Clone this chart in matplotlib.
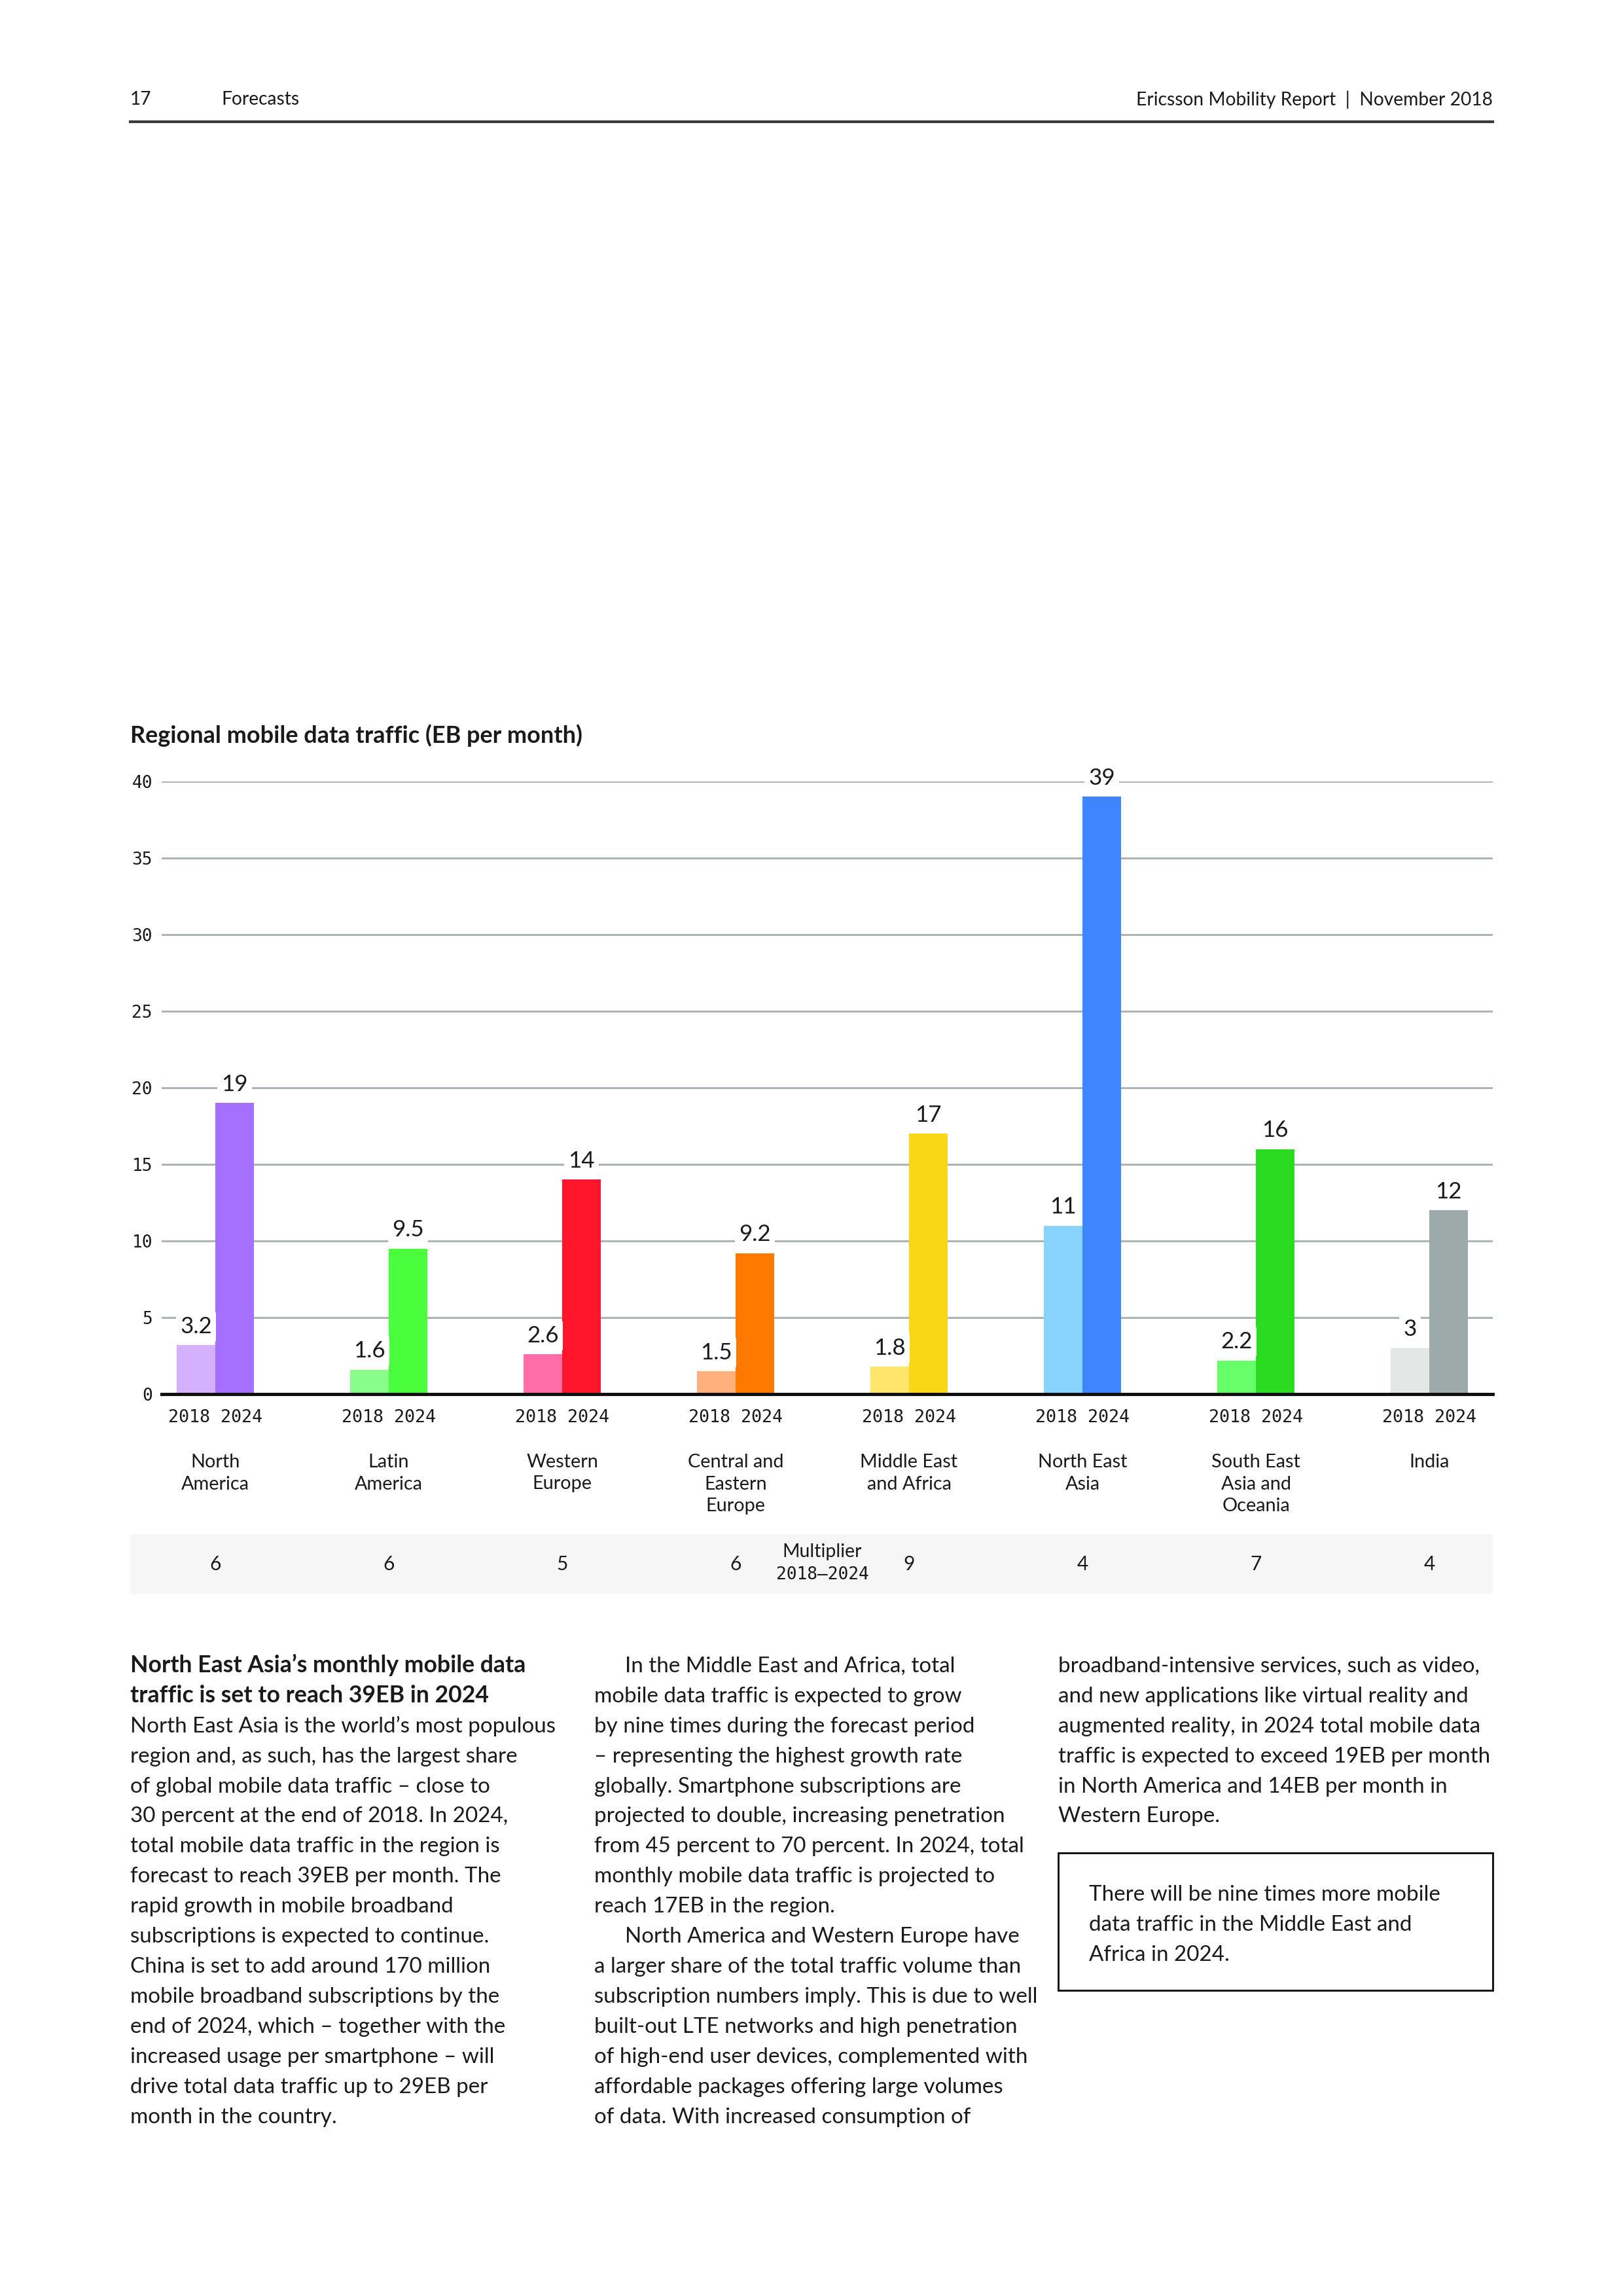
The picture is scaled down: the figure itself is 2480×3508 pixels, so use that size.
import matplotlib
matplotlib.use('Agg')
import matplotlib.pyplot as plt
import numpy as np
from matplotlib import font_manager, transforms
from matplotlib.patches import Rectangle
from matplotlib.lines import Line2D

# --- Data ---
regions = ['North\nAmerica', 'Latin\nAmerica', 'Western\nEurope',
           'Central and\nEastern\nEurope', 'Middle East\nand Africa',
           'North East\nAsia', 'South East\nAsia and\nOceania', 'India']
traffic_2018 = [3.2, 1.6, 2.6, 1.5, 1.8, 11, 2.2, 3]
traffic_2024 = [19, 9.5, 14, 9.2, 17, 39, 16, 12]
multiplier = [6, 6, 5, 6, 9, 4, 7, 4]
years_label = '2018 2024'
y_ticks = [0, 5, 10, 15, 20, 25, 30, 35, 40]

colors_2018 = ['#d4b0fa', '#88fd8b', '#ff6ca6', '#ffb07c', '#fee66d', '#88d3ff', '#66ff69', '#e3e7e5']
colors_2024 = ['#a56fff', '#4afe3e', '#ff162c', '#ff7800', '#f9d716', '#3d86ff', '#2adb22', '#9caba9']

col1 = [
    "North East Asia is the world’s most populous",
    "region and, as such, has the largest share",
    "of global mobile data traffic – close to",
    "30 percent at the end of 2018. In 2024,",
    "total mobile data traffic in the region is",
    "forecast to reach 39EB per month. The",
    "rapid growth in mobile broadband",
    "subscriptions is expected to continue.",
    "China is set to add around 170 million",
    "mobile broadband subscriptions by the",
    "end of 2024, which – together with the",
    "increased usage per smartphone – will",
    "drive total data traffic up to 29EB per",
    "month in the country.",
]
col1_head = ["North East Asia’s monthly mobile data",
             "traffic is set to reach 39EB in 2024"]
col2 = [
    "In the Middle East and Africa, total",
    "mobile data traffic is expected to grow",
    "by nine times during the forecast period",
    "– representing the highest growth rate",
    "globally. Smartphone subscriptions are",
    "projected to double, increasing penetration",
    "from 45 percent to 70 percent. In 2024, total",
    "monthly mobile data traffic is projected to",
    "reach 17EB in the region.",
    "North America and Western Europe have",
    "a larger share of the total traffic volume than",
    "subscription numbers imply. This is due to well",
    "built-out LTE networks and high penetration",
    "of high-end user devices, complemented with",
    "affordable packages offering large volumes",
    "of data. With increased consumption of",
]
col2_indent = [0, 9]
col3 = [
    "broadband-intensive services, such as video,",
    "and new applications like virtual reality and",
    "augmented reality, in 2024 total mobile data",
    "traffic is expected to exceed 19EB per month",
    "in North America and 14EB per month in",
    "Western Europe.",
]
callout = ["There will be nine times more mobile",
           "data traffic in the Middle East and",
           "Africa in 2024."]

# --- Page setup (A4 at 300 dpi, positions in page pixels) ---
W, H = 2480, 3508
fig = plt.figure(figsize=(W / 300, H / 300), dpi=300)
renderer = fig.canvas.get_renderer()


def P(x, y):
    return x / W, 1 - y / H


def installed(name):
    try:
        font_manager.findfont(font_manager.FontProperties(family=name), fallback_to_default=False)
        return True
    except ValueError:
        return False


SANS = 'Liberation Sans Narrow' if installed('Liberation Sans Narrow') else 'Lato'
MONO = 'DejaVu Sans Mono'
INK = '#1a1a1a'


def fit_size(text, target_px, **kw):
    t = fig.text(0, 0, text, fontsize=10, **kw)
    w = t.get_window_extent(renderer=renderer).width
    t.remove()
    return 10 * target_px / w


BODY = fit_size(col1[0], 650, family=SANS)
HEAD = fit_size(col1_head[0], 606, family=SANS, weight='bold')
TITLE = fit_size('Regional mobile data traffic (EB per month)', 689, family=SANS, weight='bold')
TOP = fit_size('Ericsson Mobility Report  |  November 2018', 543, family=SANS)

# header
fig.text(*P(199, 152), '17', family=SANS, fontsize=TOP, color=INK, va='center')
fig.text(*P(338, 152), 'Forecasts', family=SANS, fontsize=TOP, color=INK, va='center')
fig.text(*P(2281, 152), 'Ericsson Mobility Report  |  November 2018', family=SANS,
         fontsize=TOP, color=INK, va='center', ha='right')
fig.add_artist(Line2D([199 / W, 2281 / W], [1 - 186 / H] * 2, color='#3a3a3a', lw=1.0))

fig.text(*P(199, 1124), 'Regional mobile data traffic (EB per month)', family=SANS,
         weight='bold', fontsize=TITLE, color=INK, va='center')

# --- Chart ---
x0, pitch, ax_l, ax_r, ax_t, ax_b = 329, 265, 247, 2281, 1194, 2130
ax = fig.add_axes([ax_l / W, 1 - ax_b / H, (ax_r - ax_l) / W, (ax_b - ax_t) / H])
x = np.arange(len(regions))
width = 59 / pitch
ax.bar(x - width / 2, traffic_2018, width, color=colors_2018, zorder=3)
ax.bar(x + width / 2, traffic_2024, width, color=colors_2024, zorder=3)
ax.set_xlim((ax_l - x0) / pitch, (ax_r - x0) / pitch)
ax.set_ylim(0, 40)
ax.set_yticks(y_ticks)
ax.set_yticklabels([str(v) for v in y_ticks], family=MONO, fontsize=6.3, color=INK)
ax.set_xticks([])
ax.tick_params(axis='y', length=0, pad=3.4)
ax.grid(axis='y', color='#a9b3b3', lw=0.7, zorder=0)
for s in ['top', 'right', 'left']:
    ax.spines[s].set_visible(False)
ax.spines['bottom'].set_color('#111111')
ax.spines['bottom'].set_linewidth(1.2)
ax.spines['bottom'].set_zorder(4)

for xs, vals in [(x - width / 2, traffic_2018), (x + width / 2, traffic_2024)]:
    for xi, v in zip(xs, vals):
        ax.annotate(f'{v:g}', (xi, v), xytext=(0, 6.8), textcoords='offset points',
                    ha='center', va='center', family=SANS, fontsize=BODY * 1.05, color=INK,
                    bbox=dict(fc='white', ec='none', pad=1.5), zorder=5, annotation_clip=False)

tr = transforms.blended_transform_factory(ax.transData, fig.transFigure)
for i, (name, m) in enumerate(zip(regions, multiplier)):
    fig.text(i, 1 - 2166 / H, years_label, transform=tr, family=MONO, fontsize=6.4,
             color=INK, ha='center', va='center')
    for j, line in enumerate(name.split('\n')):
        fig.text(i, 1 - (2234 + j * 33.5) / H, line, transform=tr, family=SANS,
                 fontsize=BODY * 0.87, color=INK, ha='center', va='center')
    fig.text(i, 1 - 2390 / H, str(m), transform=tr, family=SANS, fontsize=BODY * 0.9,
             color=INK, ha='center', va='center')

# multiplier band
fig.add_artist(Rectangle(P(199, 2435), (2281 - 199) / W, (2435 - 2344) / H,
                         transform=fig.transFigure, fc='#f6f6f6', ec='none', zorder=0))
fig.text(3.5, 1 - 2371 / H, 'Multiplier', transform=tr, family=SANS, fontsize=BODY * 0.86,
         color=INK, ha='center', va='center')
fig.text(3.5, 1 - 2406 / H, '2018–2024', transform=tr, family=MONO, fontsize=6.3,
         color=INK, ha='center', va='center')

# --- Body text ---
LEAD, BASE = 45.9, 2555
for k, line in enumerate(col1_head):
    fig.text(*P(199, BASE + k * LEAD), line, family=SANS, weight='bold', fontsize=HEAD,
             color=INK, va='baseline')
for k, line in enumerate(col1):
    fig.text(*P(199, BASE + (k + 2) * LEAD), line, family=SANS, fontsize=BODY,
             color=INK, va='baseline')
for k, line in enumerate(col2):
    xl = 955 if k in col2_indent else 908
    fig.text(*P(xl, BASE + k * LEAD), line, family=SANS, fontsize=BODY, color=INK, va='baseline')
for k, line in enumerate(col3):
    fig.text(*P(1617, BASE + k * LEAD), line, family=SANS, fontsize=BODY, color=INK, va='baseline')

fig.add_artist(Rectangle(P(1617, 3041), (2281 - 1617) / W, (3041 - 2831) / H,
                         transform=fig.transFigure, fc='none', ec='#111111', lw=0.7))
for k, line in enumerate(callout):
    fig.text(*P(1664, 2904 + k * LEAD), line, family=SANS, fontsize=BODY, color=INK, va='baseline')

fig.savefig('out.png', dpi=300, facecolor='white')
